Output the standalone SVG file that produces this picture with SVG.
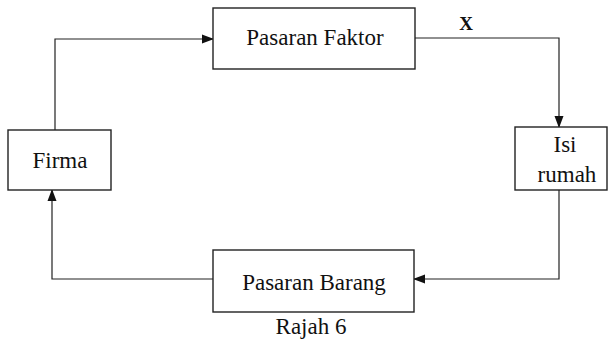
<svg xmlns="http://www.w3.org/2000/svg" width="612" height="342" viewBox="0 0 612 342">
<style>
.box{fill:#fff;stroke:#222;stroke-width:1.4}
.t{font-family:'Liberation Serif','Times New Roman','DejaVu Serif',serif;font-size:23px;fill:#111;text-anchor:middle}
.c{fill:none;stroke:#222;stroke-width:1.2}
</style>
<defs>
<marker id="a" markerWidth="12" markerHeight="12" refX="11" refY="6" orient="auto" markerUnits="userSpaceOnUse">
<path d="M0,1.5 L12,6 L0,10.5 Z" fill="#111"/>
</marker>
</defs>
<rect width="612" height="342" fill="#fff"/>
<g id="connectors">
<path class="c" d="M55,130 V39 H213" marker-end="url(#a)"/>
<path class="c" d="M415,38 H559 V127" marker-end="url(#a)"/>
<path class="c" d="M559,190 V279 H414" marker-end="url(#a)"/>
<path class="c" d="M213,279 H52 V190" marker-end="url(#a)"/>
</g>
<g id="faktor"><rect class="box" x="213" y="8" width="202" height="61"/><text class="t" x="315" y="45">Pasaran Faktor</text></g>
<g id="firma"><rect class="box" x="8" y="130" width="103" height="60"/><text class="t" x="60" y="168">Firma</text></g>
<g id="isirumah"><rect class="box" x="515" y="127" width="92" height="63"/><text class="t" x="565" y="152">Isi</text><text class="t" x="567" y="182">rumah</text></g>
<g id="barang"><rect class="box" x="213" y="250" width="201" height="62"/><text class="t" x="314" y="290">Pasaran Barang</text></g>
<text class="t" x="466" y="30" style="font-weight:bold;font-size:19px">X</text>
<text class="t" x="311" y="334">Rajah 6</text>
</svg>
